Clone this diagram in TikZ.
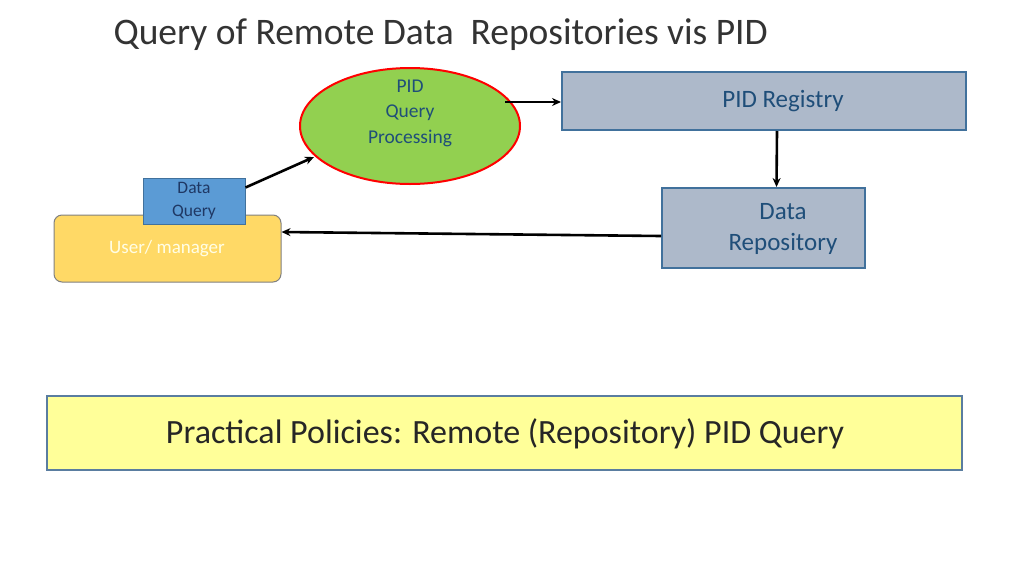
\documentclass[tikz,border=0pt]{standalone}
\usepackage{fontspec}
\setmainfont{Carlito}
\usetikzlibrary{shapes.geometric,arrows.meta}
\definecolor{boxb}{HTML}{ADB9CA}
\definecolor{edgeb}{HTML}{41719C}
\definecolor{txtb}{HTML}{1F4E79}
\begin{document}
\begin{tikzpicture}[x=1pt,y=-1pt,
  arr/.style={-{Stealth[length=9pt,width=8pt]},line width=2.6pt,black},
  rep/.style={draw=edgeb,line width=2pt,fill=boxb,inner sep=0}]
\useasboundingbox (0,0) rectangle (1024,576);
\fill[white] (0,0) rectangle (1024,576);
\node[anchor=west,font=\fontsize{37.5}{44}\selectfont,text=black!80] (title) at (110,35) {Query of Remote Data\ \ Repositories vis PID};
\node[ellipse,draw=red,line width=2pt,fill={rgb,255:red,146;green,208;blue,80},minimum width=220,minimum height=116] (pqp) at (410,126) {};
\node[text=txtb,align=center,font=\fontsize{19.5}{25.5}\selectfont] at (410,113) {PID\\Query\\Processing};
\node[rep,minimum width=404,minimum height=58] (reg) at (764,101) {};
\node[text=txtb,font=\fontsize{25}{30}\selectfont] at (783,101) {PID Registry};
\node[rep,minimum width=203,minimum height=80] (repo) at (763.5,228) {};
\node[text=txtb,font=\fontsize{25}{31}\selectfont,align=center] at (783,229) {Data\\Repository};
\node[draw=gray,line width=1pt,fill={rgb,255:red,255;green,217;blue,102},rounded corners=8,minimum width=227,minimum height=67] (user) at (167.5,248.5) {};
\node[text=white!90!yellow,font=\fontsize{19}{23}\selectfont] at (167,249) {User/ manager};
\node[draw=edgeb,line width=1pt,fill={rgb,255:red,91;green,155;blue,213},minimum width=102,minimum height=46,text={rgb,255:red,31;green,56;blue,100},align=center,font=\fontsize{17.5}{23}\selectfont,inner sep=0] (dq) at (194,201) {Data\\Query};
\node[draw={rgb,255:red,90;green,125;blue,160},line width=2pt,fill={rgb,255:red,255;green,255;blue,153},minimum width=915,minimum height=74] (pol) at (504.5,433) {};
\node[font=\fontsize{34}{40}\selectfont,text=black!85] at (505,434) {Practical Policies: Remote (Repository) PID Query};
\coordinate (a1) at (505,102);
\draw[arr] (a1) -- (reg.west |- a1);
\draw[arr] ([xshift=13pt]reg.south) -- ([xshift=13pt]repo.north);
\draw[arr] (repo.west |- 0,236) -- (user.east |- 0,232);
\draw[arr] (dq.north east) ++(0,10) -- (314,157);
\end{tikzpicture}
\end{document}
